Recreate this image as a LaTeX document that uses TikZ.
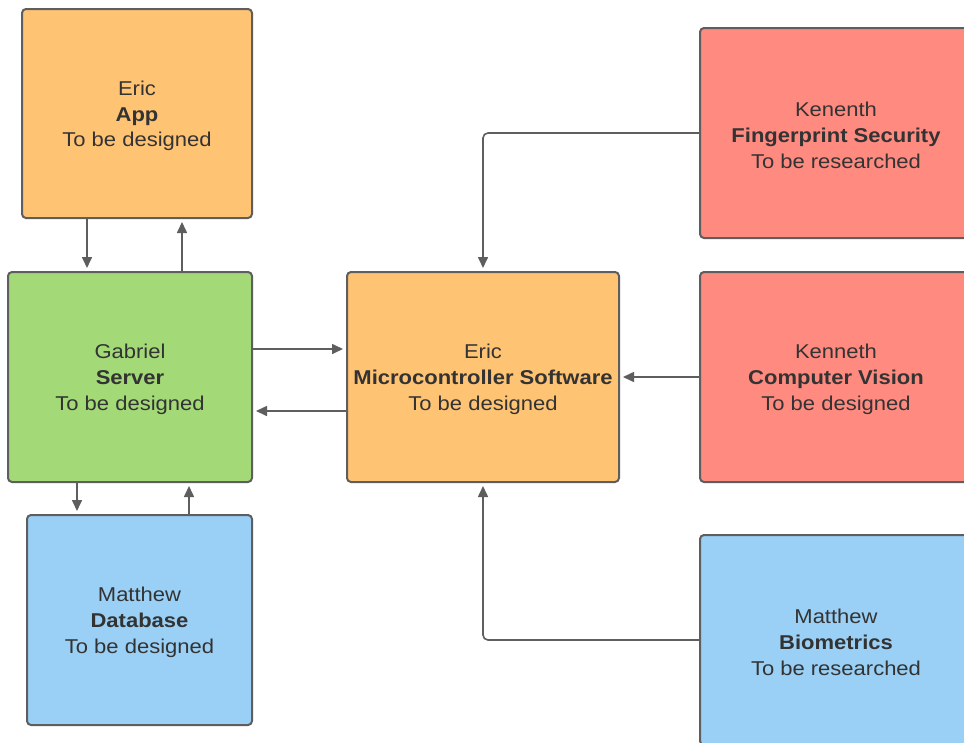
\documentclass[tikz,border=0pt]{standalone}
\usepackage{fontspec}
\setmainfont{Liberation Sans}[FakeStretch=1.1]
\usetikzlibrary{arrows.meta,calc}
\definecolor{cOrange}{HTML}{FFC374}
\definecolor{cGreen}{HTML}{A3D977}
\definecolor{cBlue}{HTML}{9AD0F5}
\definecolor{cRed}{HTML}{FF8A80}
\definecolor{cLine}{HTML}{5E5E5E}
\definecolor{cText}{HTML}{333333}
\newcommand{\mystrut}{\rule{0pt}{19.5pt}}
\begin{document}
\begin{tikzpicture}[x=1pt,y=1pt,
  box/.style={draw=cLine,line width=2pt,rounded corners=4pt,minimum height=210pt,
    align=center,text=cText,inner sep=0pt,
    font=\fontsize{20pt}{25.8pt}\selectfont},
  arr/.style={draw=cLine,line width=1.6pt,-{Triangle[length=11pt,width=10pt]},shorten >=3pt},
  rarr/.style={arr,rounded corners=5pt}]
\useasboundingbox (0,0) rectangle (964,-742);
\clip (0,0) rectangle (964,-742);
\fill[white] (0,0) rectangle (964,-742);
\node[box,fill=cOrange,minimum width=230pt,minimum height=209pt] (App) at (137,-113.5) {\mystrut Eric\\\textbf{App}\\To be designed};
\node[box,fill=cGreen,minimum width=244pt] (Server) at (130,-377) {\mystrut Gabriel\\\textbf{Server}\\To be designed};
\node[box,fill=cBlue,minimum width=225pt] (DB) at (139.5,-620) {\mystrut Matthew\\\textbf{Database}\\To be designed};
\node[box,fill=cOrange,minimum width=272pt] (Micro) at (483,-377) {\mystrut Eric\\\textbf{Microcontroller Software}\\To be designed};
\node[box,fill=cRed,minimum width=272pt] (FP) at (836,-133) {\mystrut Kenenth\\\textbf{Fingerprint Security}\\To be researched};
\node[box,fill=cRed,minimum width=272pt] (CV) at (836,-377) {\mystrut Kenneth\\\textbf{Computer Vision}\\To be designed};
\node[box,fill=cBlue,minimum width=272pt] (Bio) at (836,-640) {\mystrut Matthew\\\textbf{Biometrics}\\To be researched};
\draw[arr] ([xshift=66pt]App.south west) -- ([xshift=80pt]Server.north west);
\draw[arr] ([xshift=175pt]Server.north west) -- ([xshift=161pt]App.south west);
\draw[arr] ([yshift=-78pt]Server.north east) -- ([yshift=-78pt]Micro.north west);
\draw[arr] ([yshift=-140pt]Micro.north west) -- ([yshift=-140pt]Server.north east);
\draw[arr] ([xshift=70pt]Server.south west) -- ([xshift=51pt]DB.north west);
\draw[arr] ([xshift=163pt]DB.north west) -- ([xshift=182pt]Server.south west);
\draw[rarr] (FP.west) -| (Micro.north);
\draw[arr] (CV.west) -- (Micro.east);
\draw[rarr] (Bio.west) -| (Micro.south);
\end{tikzpicture}
\end{document}
